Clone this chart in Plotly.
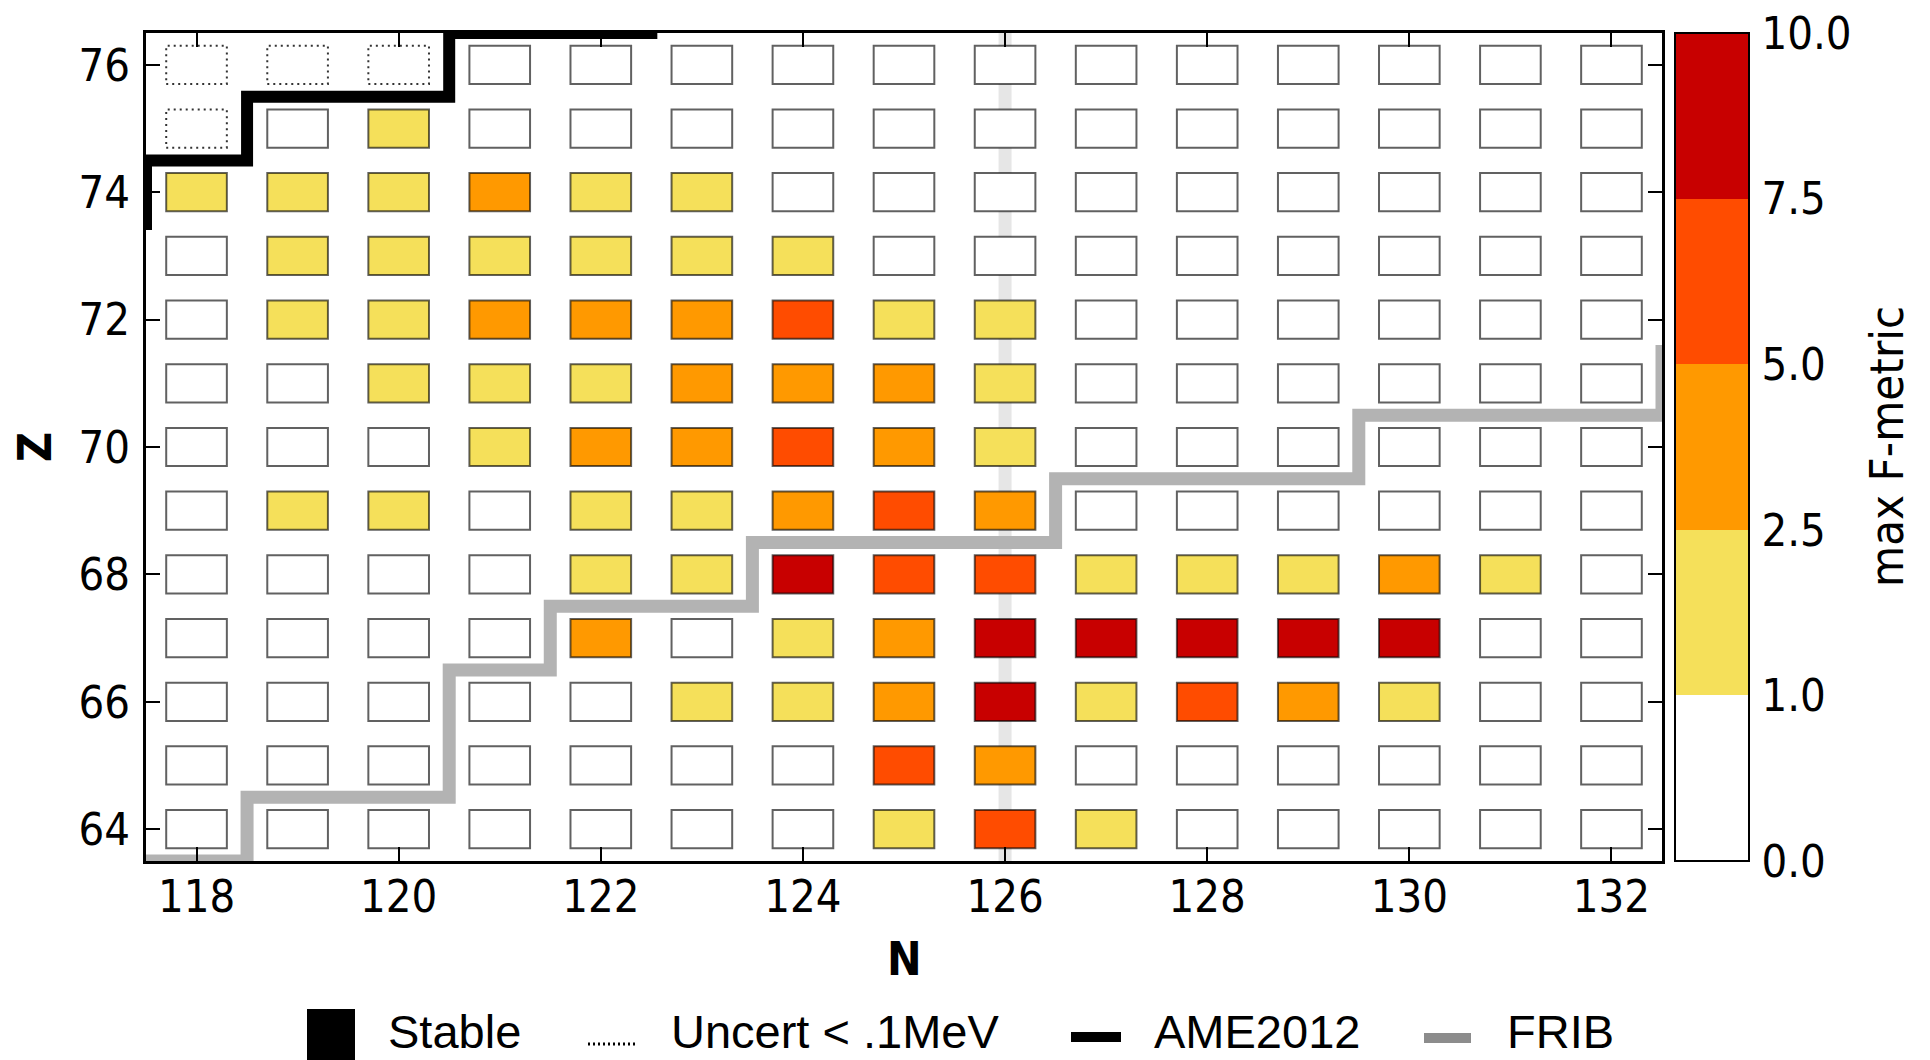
import numpy as np
import plotly.graph_objects as go

# ---------------- data ----------------
N_VALUES = list(range(118, 133))          # columns
Z_VALUES = list(range(76, 63, -1))        # rows, top to bottom

# estimated max F-metric per cell (None = uncertainty < .1 MeV cell, no value)
F_ROWS = [
    [None, None, None, 0.5, 0.5, 0.5, 0.5, 0.5, 0.5, 0.5, 0.5, 0.5, 0.5, 0.5, 0.5],  # Z=76
    [None, 0.5, 1.8, 0.5, 0.5, 0.5, 0.5, 0.5, 0.5, 0.5, 0.5, 0.5, 0.5, 0.5, 0.5],    # Z=75
    [1.8, 1.8, 1.8, 3.8, 1.8, 1.8, 0.5, 0.5, 0.5, 0.5, 0.5, 0.5, 0.5, 0.5, 0.5],     # Z=74
    [0.5, 1.8, 1.8, 1.8, 1.8, 1.8, 1.8, 0.5, 0.5, 0.5, 0.5, 0.5, 0.5, 0.5, 0.5],     # Z=73
    [0.5, 1.8, 1.8, 3.8, 3.8, 3.8, 6.2, 1.8, 1.8, 0.5, 0.5, 0.5, 0.5, 0.5, 0.5],     # Z=72
    [0.5, 0.5, 1.8, 1.8, 1.8, 3.8, 3.8, 3.8, 1.8, 0.5, 0.5, 0.5, 0.5, 0.5, 0.5],     # Z=71
    [0.5, 0.5, 0.5, 1.8, 3.8, 3.8, 6.2, 3.8, 1.8, 0.5, 0.5, 0.5, 0.5, 0.5, 0.5],     # Z=70
    [0.5, 1.8, 1.8, 0.5, 1.8, 1.8, 3.8, 6.2, 3.8, 0.5, 0.5, 0.5, 0.5, 0.5, 0.5],     # Z=69
    [0.5, 0.5, 0.5, 0.5, 1.8, 1.8, 8.8, 6.2, 6.2, 1.8, 1.8, 1.8, 3.8, 1.8, 0.5],     # Z=68
    [0.5, 0.5, 0.5, 0.5, 3.8, 0.5, 1.8, 3.8, 8.8, 8.8, 8.8, 8.8, 8.8, 0.5, 0.5],     # Z=67
    [0.5, 0.5, 0.5, 0.5, 0.5, 1.8, 1.8, 3.8, 8.8, 1.8, 6.2, 3.8, 1.8, 0.5, 0.5],     # Z=66
    [0.5, 0.5, 0.5, 0.5, 0.5, 0.5, 0.5, 6.2, 3.8, 0.5, 0.5, 0.5, 0.5, 0.5, 0.5],     # Z=65
    [0.5, 0.5, 0.5, 0.5, 0.5, 0.5, 0.5, 1.8, 6.2, 1.8, 0.5, 0.5, 0.5, 0.5, 0.5],     # Z=64
]

UNCERT_N = [118, 119, 120, 118]
UNCERT_Z = [76, 76, 76, 75]

AME_N = [116.5, 117.5, 117.5, 118.5, 118.5, 120.5, 120.5, 122.5, 122.5]
AME_Z = [73.5, 73.5, 74.5, 74.5, 75.5, 75.5, 76.5, 76.5, 77.5]

FRIB_N = [116.5, 118.5, 118.5, 120.5, 120.5, 121.5, 121.5, 123.5, 123.5,
          126.5, 126.5, 129.5, 129.5, 132.5, 132.5, 133.5]
FRIB_Z = [63.5, 63.5, 64.5, 64.5, 66.5, 66.5, 67.5, 67.5, 68.5,
          68.5, 69.5, 69.5, 70.5, 70.5, 71.5, 71.5]

MAGIC_N = [126]

BOUNDS = [0.0, 1.0, 2.5, 5.0, 7.5, 10.0]
BOUND_LABELS = ["0.0", "1.0", "2.5", "5.0", "7.5", "10.0"]
BIN_COLORS = ["#ffffff", "#f5e05a", "#ff9900", "#ff4c00", "#c80000"]

X_TICKS = list(range(118, 133, 2))
Y_TICKS = list(range(64, 77, 2))

LEGEND_LABELS = ["Stable", "Uncert < .1MeV", "AME2012", "FRIB"]

# ---------------- geometry ----------------
W, H = 1930, 1060
ML, MR, MT, MB = 146, 268, 33, 199
PW, PH = W - ML - MR, H - MT - MB


def px(x):
    return (x - ML) / PW


def py(y):
    return (H - MB - y) / PH


BOX = 0.6
TICK_FONT = dict(family="DejaVu Sans Condensed, DejaVu Sans", size=45, color="black")

# ---------------- cells ----------------
bar_n, bar_z, bar_c = [], [], []
for zi, z in enumerate(Z_VALUES):
    for ni, n in enumerate(N_VALUES):
        f = F_ROWS[zi][ni]
        if f is None:
            continue
        bar_n.append(n)
        bar_z.append(z)
        bar_c.append(int(np.digitize(f, BOUNDS[1:-1])) + 0.5)

nb = len(BIN_COLORS)
colorscale = []
for k, c in enumerate(BIN_COLORS):
    colorscale.append([k / nb, c])
    colorscale.append([(k + 1) / nb, c])

fig = go.Figure()

fig.add_trace(go.Bar(
    x=bar_n,
    y=[BOX] * len(bar_n),
    base=[z - BOX / 2 for z in bar_z],
    width=BOX,
    marker=dict(
        color=bar_c,
        colorscale=colorscale,
        cmin=0, cmax=nb,
        line=dict(color="rgba(0,0,0,0.62)", width=2),
        colorbar=dict(
            x=px(1675), xanchor="left", xpad=0,
            y=0.5, yanchor="middle", ypad=0,
            len=1, lenmode="fraction",
            thickness=74, thicknessmode="pixels",
            outlinewidth=2, outlinecolor="black",
            tickmode="array",
            tickvals=list(range(len(BOUNDS))),
            ticktext=BOUND_LABELS,
            ticks="outside", ticklen=3, tickcolor="rgba(0,0,0,0)",
            tickfont=TICK_FONT,
        ),
    ),
    showlegend=False,
    hoverinfo="skip",
))

# dotted cells
ux, uy = [], []
for n, z in zip(UNCERT_N, UNCERT_Z):
    h = BOX / 2
    ux += [n - h, n + h, n + h, n - h, n - h, None]
    uy += [z - h, z - h, z + h, z + h, z - h, None]
fig.add_trace(go.Scatter(x=ux, y=uy, mode="lines",
                         line=dict(color="#333333", width=2, dash="2px,4px"),
                         showlegend=False, hoverinfo="skip"))

fig.add_trace(go.Scatter(x=AME_N, y=AME_Z, mode="lines",
                         line=dict(color="black", width=12),
                         showlegend=False, hoverinfo="skip"))
fig.add_trace(go.Scatter(x=FRIB_N, y=FRIB_Z, mode="lines",
                         line=dict(color="#b3b3b3", width=13),
                         showlegend=False, hoverinfo="skip"))

shapes = []
for m in MAGIC_N:
    shapes.append(dict(type="line", xref="x", yref="paper", x0=m, x1=m, y0=0, y1=1,
                       line=dict(color="#e6e6e6", width=13), layer="below"))

# manual legend
shapes.append(dict(type="rect", xref="paper", yref="paper",
                   x0=px(307), x1=px(355), y0=py(1075), y1=py(1009),
                   fillcolor="black", line=dict(width=0)))
shapes.append(dict(type="line", xref="paper", yref="paper",
                   x0=px(588), x1=px(635), y0=py(1044), y1=py(1044),
                   line=dict(color="black", width=3, dash="2px,3px")))
shapes.append(dict(type="line", xref="paper", yref="paper",
                   x0=px(1071), x1=px(1121), y0=py(1037), y1=py(1037),
                   line=dict(color="black", width=10)))
shapes.append(dict(type="line", xref="paper", yref="paper",
                   x0=px(1424), x1=px(1471), y0=py(1038), y1=py(1038),
                   line=dict(color="#8c8c8c", width=10)))

LEG_FONT = dict(family="Liberation Sans Narrow, Liberation Sans", size=47, color="black")
annotations = []
for label, xs in zip(LEGEND_LABELS, [386, 669, 1152, 1505]):
    annotations.append(dict(text=label, xref="paper", yref="paper",
                            x=px(xs), y=py(1031), xanchor="left", yanchor="middle",
                            showarrow=False, font=LEG_FONT))

annotations.append(dict(text="<b>N</b>", xref="paper", yref="paper",
                        x=px(904), y=py(959), xanchor="center", yanchor="middle",
                        showarrow=False,
                        font=dict(family="DejaVu Sans Condensed, DejaVu Sans", size=46, color="black")))
annotations.append(dict(text="<b>Z</b>", xref="paper", yref="paper",
                        x=px(35), y=0.5, xanchor="center", yanchor="middle",
                        textangle=-90, showarrow=False,
                        font=dict(family="DejaVu Sans Condensed, DejaVu Sans", size=46, color="black")))
annotations.append(dict(text="max F-metric", xref="paper", yref="paper",
                        x=px(1886), y=0.5, xanchor="center", yanchor="middle",
                        textangle=-90, showarrow=False,
                        font=dict(family="DejaVu Sans Condensed, DejaVu Sans", size=47, color="black")))

axis_common = dict(showgrid=False, zeroline=False, showline=True, linecolor="black",
                   linewidth=3, mirror="ticks", ticks="inside", ticklen=14,
                   tickwidth=1.5, tickcolor="black", tickfont=TICK_FONT,
                   tickmode="array")

fig.update_layout(
    width=W, height=H,
    margin=dict(l=ML, r=MR, t=MT, b=MB, pad=0),
    paper_bgcolor="white", plot_bgcolor="white",
    barmode="overlay",
    showlegend=False,
    xaxis=dict(range=[117.5, 132.5], tickvals=X_TICKS, ticklabelstandoff=-6, **axis_common),
    yaxis=dict(range=[63.5, 76.5], tickvals=Y_TICKS, ticklabelstandoff=4, **axis_common),
    shapes=shapes,
    annotations=annotations,
)

fig.write_html("out.html")
